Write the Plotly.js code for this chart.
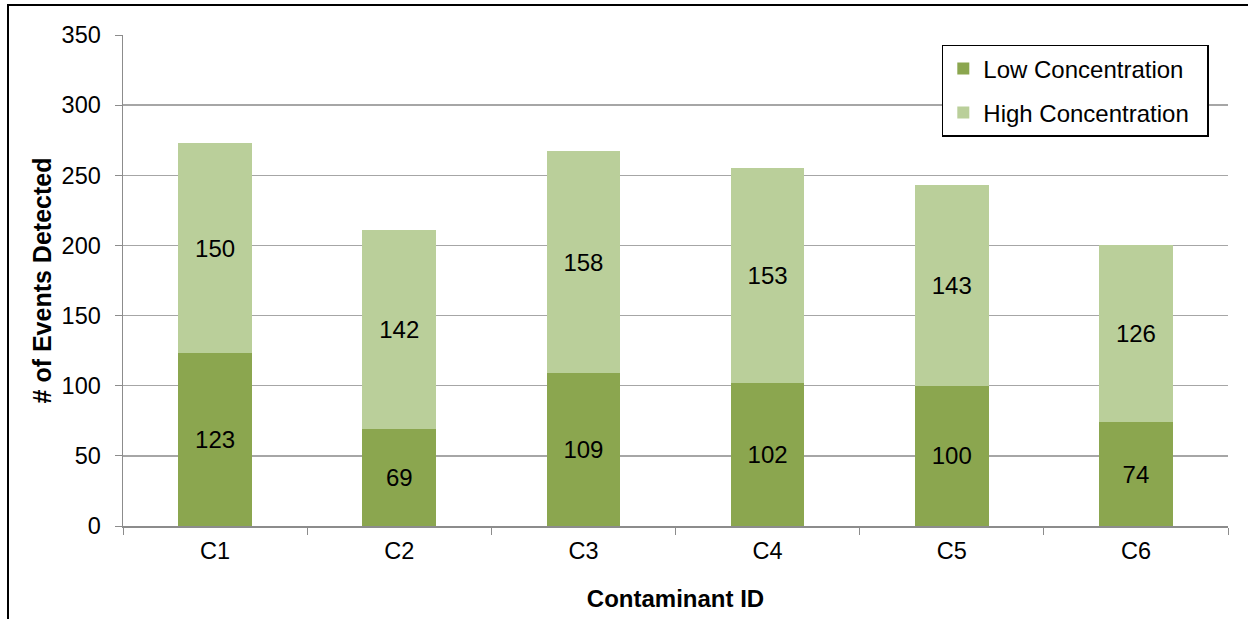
<!DOCTYPE html>
<html><head><meta charset="utf-8">
<script src="https://cdn.plot.ly/plotly-3.0.1.min.js"></script>
<style>html,body{margin:0;padding:0;background:#fff;}#wrap{position:relative;width:1248px;height:619px;}#chart{width:1248px;height:619px;}#frame{position:absolute;left:7px;top:4px;width:1260px;height:640px;border-left:2px solid #000;border-top:2px solid #000;pointer-events:none;}</style>
</head><body>
<div id="wrap"><div id="chart"></div><div id="frame"></div></div>
<script>
const categories = ["C1","C2","C3","C4","C5","C6"];
const lowConc = [123,69,109,102,100,74];
const highConc = [150,142,158,153,143,126];
const font = "Liberation Sans, Arial, sans-serif";
const traces = [
 {type:"bar", name:"Low Concentration\u00a0\u00a0", legendgroup:"a", x:categories, y:lowConc, text:lowConc.map(String), textposition:"inside", insidetextanchor:"middle", textfont:{size:24,color:"#000",family:font}, marker:{color:"#8BA64F"}, hoverinfo:"skip"},
 {type:"bar", name:"High Concentration\u00a0\u00a0", legendgroup:"b", x:categories, y:highConc, text:highConc.map(String), textposition:"inside", insidetextanchor:"middle", textfont:{size:24,color:"#000",family:font}, marker:{color:"#BACF9A"}, hoverinfo:"skip"}
];
const layout = {
 width:1248, height:619, barmode:"stack", bargap:0.6,
 margin:{l:123,r:20,t:35,b:93},
 paper_bgcolor:"#fff", plot_bgcolor:"#fff",
 font:{family:font,size:23.5,color:"#000"},
 showlegend:true,
 legend:{x:0.741,y:0.98,xanchor:"left",yanchor:"top",bordercolor:"#000",borderwidth:1.5,bgcolor:"#fff",traceorder:"grouped",tracegroupgap:10,font:{size:24,family:font},itemwidth:30},
 xaxis:{type:"category",showline:true,linecolor:"#8c8c8c",linewidth:1.5,ticks:"outside",tickson:"boundaries",ticklen:7,tickcolor:"#8c8c8c",showgrid:false,tickfont:{size:23.5},ticklabelstandoff:3,title:{text:"<b>Contaminant ID</b>",font:{size:24},standoff:27}},
 yaxis:{range:[0,350],dtick:50,showline:true,linecolor:"#8c8c8c",linewidth:1.5,ticks:"outside",ticklen:7,tickcolor:"#8c8c8c",gridcolor:"#a6a6a6",gridwidth:1.5,zeroline:false,tickfont:{size:23.5},ticklabelstandoff:9,title:{text:"<b># of Events Detected</b>",font:{size:25},standoff:3}}
};
Plotly.newPlot("chart",traces,layout,{displayModeBar:false,staticPlot:true});
</script>
</body></html>
